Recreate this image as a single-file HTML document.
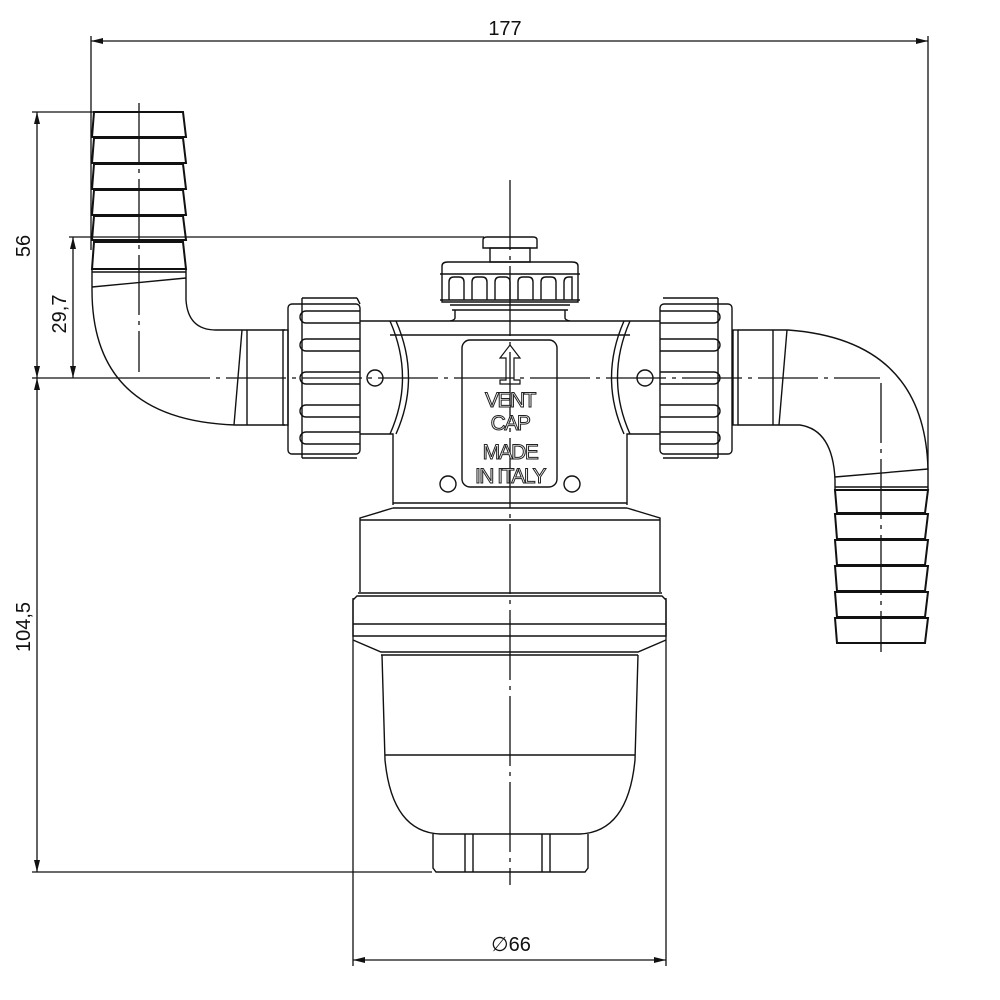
<!DOCTYPE html>
<html><head><meta charset="utf-8"><style>html,body{margin:0;padding:0;background:#fff}svg{display:block}</style></head><body>
<svg width="1000" height="1000" viewBox="0 0 1000 1000" xmlns="http://www.w3.org/2000/svg" font-family="'Liberation Sans',sans-serif">
<defs>
<marker id="a" viewBox="0 0 12 6" refX="12" refY="3" markerWidth="12" markerHeight="6" orient="auto-start-reverse" markerUnits="userSpaceOnUse"><path d="M0,0L12,3L0,6z" fill="#111"/></marker>
</defs>
<g stroke="#111" stroke-width="1.3" fill="none">
<line x1="91" y1="41" x2="928" y2="41" marker-start="url(#a)" marker-end="url(#a)"/>
<line x1="91" y1="36" x2="91" y2="250"/>
<line x1="928" y1="36" x2="928" y2="470"/>
<line x1="37" y1="112" x2="37" y2="378" marker-start="url(#a)" marker-end="url(#a)"/>
<line x1="32" y1="112" x2="95" y2="112"/>
<line x1="73" y1="237" x2="73" y2="378" marker-start="url(#a)" marker-end="url(#a)"/>
<line x1="69" y1="237" x2="484" y2="237"/>
<line x1="37" y1="378" x2="37" y2="872" marker-start="url(#a)" marker-end="url(#a)"/>
<line x1="32" y1="872" x2="432" y2="872"/>
<line x1="32" y1="378" x2="150" y2="378"/>
<line x1="353" y1="960" x2="666" y2="960" marker-start="url(#a)" marker-end="url(#a)"/>
<line x1="353" y1="598" x2="353" y2="966"/>
<line x1="666" y1="598" x2="666" y2="966"/>
<line x1="150" y1="378" x2="880" y2="378" stroke-dasharray="60,6,4,6"/>
<line x1="510" y1="180" x2="510" y2="885" stroke-dasharray="70,6,4,6"/>
<line x1="139" y1="103" x2="139" y2="372" stroke-dasharray="60,6,4,6"/>
<line x1="881" y1="383" x2="881" y2="652" stroke-dasharray="60,6,4,6"/>
</g>

<g stroke="#111" stroke-width="1.4" fill="none">
<g stroke-width="2">
<path d="M94,112H183L186,137H92Z"/>
<path d="M94,138H183L186,163H92Z"/>
<path d="M94,164H183L186,189H92Z"/>
<path d="M94,190H183L186,215H92Z"/>
<path d="M94,216H183L186,240H92Z"/>
<path d="M94,242H183L186,269H92Z"/>
</g>
<line x1="92" y1="272" x2="186" y2="272"/>
<line x1="92" y1="287" x2="186" y2="278"/>
<path d="M92,270V290Q92,420 235,425H285"/>
<path d="M186,270V300Q188,330 216,330H285"/>
<line x1="242" y1="330" x2="234" y2="425"/>
<line x1="247" y1="330" x2="247" y2="425"/>
<rect x="283" y="330" width="5" height="95"/>
<rect x="288" y="304" width="72" height="150" rx="4"/>
<line x1="302" y1="298" x2="357" y2="298"/><line x1="302" y1="458" x2="357" y2="458"/>
<line x1="302" y1="298" x2="302" y2="458"/><line x1="357" y1="298" x2="360" y2="304"/>
<g>
<path d="M360,311H306a6,6 0 0 0 0,12H360"/>
<path d="M360,339H306a6,6 0 0 0 0,12H360"/>
<path d="M360,372H306a6,6 0 0 0 0,12H360"/>
<path d="M360,405H306a6,6 0 0 0 0,12H360"/>
<path d="M360,432H306a6,6 0 0 0 0,12H360"/>
</g>
<rect x="660" y="304" width="72" height="150" rx="4"/>
<line x1="663" y1="298" x2="718" y2="298"/><line x1="663" y1="458" x2="718" y2="458"/>
<line x1="718" y1="298" x2="718" y2="458"/>
<g>
<path d="M660,311H714a6,6 0 0 1 0,12H660"/>
<path d="M660,339H714a6,6 0 0 1 0,12H660"/>
<path d="M660,372H714a6,6 0 0 1 0,12H660"/>
<path d="M660,405H714a6,6 0 0 1 0,12H660"/>
<path d="M660,432H714a6,6 0 0 1 0,12H660"/>
</g>
<rect x="733" y="330" width="5" height="95"/>
<path d="M738,330H788Q925,340 928,470V490"/>
<path d="M738,425H800Q833,430 835,480V490"/>
<line x1="773" y1="330" x2="773" y2="425"/>
<line x1="787" y1="330" x2="779" y2="425"/>
<line x1="835" y1="477" x2="928" y2="469"/>
<line x1="835" y1="487" x2="928" y2="487"/>
<g stroke-width="2">
<path d="M835,490H928L925,513H837Z"/>
<path d="M835,514H928L925,539H837Z"/>
<path d="M835,540H928L925,565H837Z"/>
<path d="M835,566H928L925,591H837Z"/>
<path d="M835,592H928L925,617H837Z"/>
<path d="M835,618H928L925,643H837Z"/>
</g>
<path d="M483,248V240Q483,237 487,237H533Q537,237 537,240V248Z"/>
<rect x="490" y="248" width="40" height="14"/>
<path d="M442,302V266Q442,262 448,262H572Q578,262 578,266V302Z"/>
<line x1="440" y1="274" x2="580" y2="274"/>
<line x1="440" y1="300" x2="580" y2="300"/>
<path d="M449,300V282q0,-5 5,-5h5q5,0 5,5V300 M472,300V282q0,-5 5,-5h5q5,0 5,5V300 M495,300V282q0,-5 5,-5h5q5,0 5,5V300 M518,300V282q0,-5 5,-5h5q5,0 5,5V300 M541,300V282q0,-5 5,-5h5q5,0 5,5V300 M564,300V282q0,-5 5,-5h3V300"/>
<line x1="450" y1="305" x2="570" y2="305"/>
<line x1="452" y1="310" x2="568" y2="310"/>
<path d="M455,310V318Q455,320 450,321 M565,310V318Q565,320 570,321"/>
<line x1="360" y1="321" x2="660" y2="321"/>
<line x1="390" y1="335" x2="630" y2="335"/>
<path d="M390,321Q415,378 390,434 M396,321Q421,378 396,434"/>
<path d="M630,321Q605,378 630,434 M624,321Q599,378 624,434"/>
<path d="M360,434H393V505 M660,434H627V505"/>
<rect x="462" y="340" width="95" height="147" rx="8"/>
<circle cx="375" cy="378" r="8"/>
<circle cx="645" cy="378" r="8"/>
<circle cx="448" cy="484" r="8"/>
<circle cx="572" cy="484" r="8"/>
<line x1="393" y1="503" x2="627" y2="503"/>
<line x1="393" y1="508" x2="627" y2="508"/>
<path d="M393,508L360,518V592 M627,508L660,518V592"/>
<line x1="360" y1="520" x2="660" y2="520"/>
<line x1="358" y1="593" x2="662" y2="593"/>
<path d="M353,600V636H666V600L662,596H357Z"/>
<line x1="353" y1="624" x2="666" y2="624"/>
<path d="M353,640L381,652H638L666,640"/>
<line x1="381" y1="655" x2="638" y2="655"/>
<path d="M382,655L385,760Q392,832 440,834H580Q628,832 635,760L638,655"/>
<line x1="385" y1="755" x2="635" y2="755"/>
<path d="M433,834V868L436,872H585L588,868V834"/>
<line x1="465" y1="834" x2="465" y2="872"/><line x1="473" y1="834" x2="473" y2="872"/>
<line x1="542" y1="834" x2="542" y2="872"/><line x1="550" y1="834" x2="550" y2="872"/>
<path d="M510,345L520,358H514V380H520V384H500V380H506V358H500Z" stroke-width="1.2"/>
</g>
<g font-size="21" fill="#fff" stroke="#222" stroke-width="1" text-anchor="middle" letter-spacing="-1.5">
<text x="510" y="407">VENT</text>
<text x="510" y="430">CAP</text>
<text x="510" y="459">MADE</text>
<text x="510" y="483">IN ITALY</text>
</g>
<g font-size="20" fill="#111">
<text x="505" y="35" text-anchor="middle">177</text>
<text transform="translate(30,246) rotate(-90)" text-anchor="middle">56</text>
<text transform="translate(66,314) rotate(-90)" text-anchor="middle">29,7</text>
<text transform="translate(30,627) rotate(-90)" text-anchor="middle">104,5</text>
<text x="511" y="951" text-anchor="middle">∅66</text>
</g>
</svg>
</body></html>
